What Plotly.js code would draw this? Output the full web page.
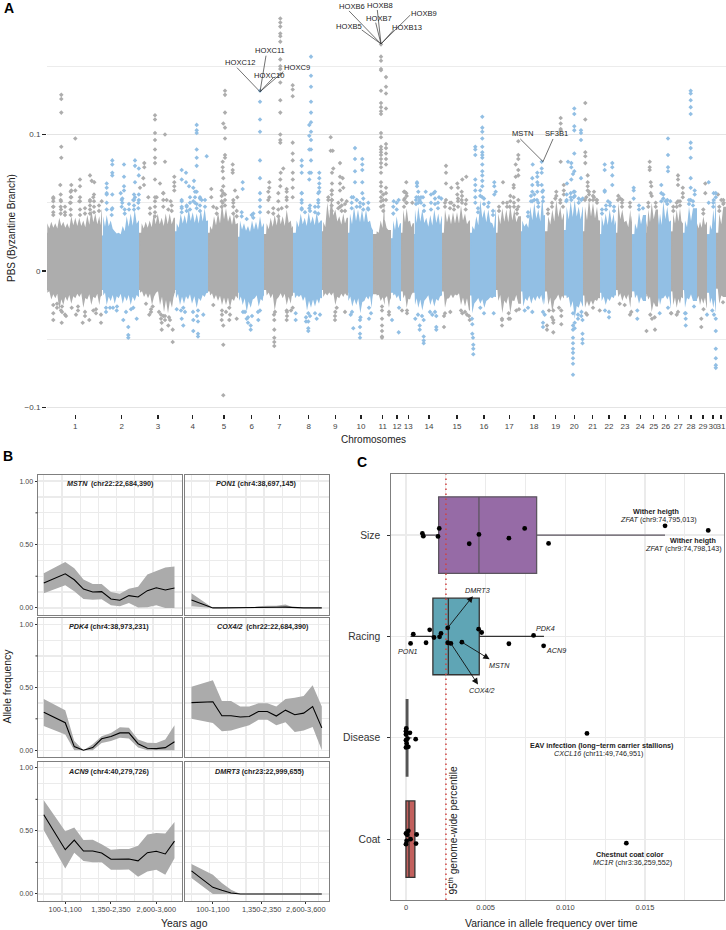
<!DOCTYPE html>
<html><head><meta charset="utf-8">
<script src="https://cdn.plot.ly/plotly-3.0.1.min.js"></script>
<style>html,body{margin:0;padding:0;background:#fff}</style></head>
<body><div id="chart" style="width:726px;height:930px"></div>
<script>
// ---------- Panel A data ----------
const chromosomes=['1','2','3','4','5','6','7','8','9','10','11','12','13','14','15','16','17','18','19','20','21','22','23','24','25','26','27','28','29','30','31'];
const chromBounds=[47,102,139,175,208,238,264,293,322,348,373,391,401,414,442,470,496,521,545,564,583,600,616,632,646,658,671,683,697,707,716,726];
const chromTicks=[75.3,121.7,158,192.7,224,251.7,279.3,308.7,335.3,361,382.7,397,408.3,429,457,484,509.3,534,555.7,574.3,592.7,609,625,640.3,653.7,665.7,678.3,691,703,713,721];
const coreTop=[.028,.026,.028,.029,.028,.025,.027,.028,.029,.028,.027,.024,.028,.027,.028,.028,.028,.029,.029,.030,.029,.027,.028,.027,.028,.027,.029,.028,.028,.027,.028];
const coreLow=[-.014,-.014,-.014,-.014,-.015,-.016,-.014,-.016,-.014,-.016,-.017,-.016,-.015,-.016,-.015,-.018,-.014,-.015,-.015,-.018,-.018,-.016,-.014,-.015,-.017,-.016,-.015,-.014,-.016,-.016,-.013];
const envTop=[[47.3,.035],[51.3,.036],[55.3,.035],[59.3,.039],[63.3,.036],[67.3,.035],[71.3,.040],[75.3,.039],[79.3,.039],[83.3,.037],[87.3,.041],[91.3,.045],[95.3,.042],[99.3,.040],[101.7,.045],
[103.3,.040],[106.7,.041],[110.7,.037],[114.7,.029],[118.7,.028],[122.7,.033],[126.7,.040],[130.7,.042],[134.7,.045],[138.7,.037],
[141.7,.035],[145.7,.036],[149.7,.037],[153.7,.042],[157.7,.042],[161.7,.039],[165.7,.042],[169.7,.042],[173.7,.039],
[176.7,.035],[180.7,.042],[184.7,.041],[188.7,.046],[192.7,.043],[196.7,.042],[200.7,.045],[204.7,.046],[207.7,.037],
[210,.033],[214,.040],[218,.043],[222,.050],[226,.046],[230,.041],[234,.042],[237.3,.035],
[240,.037],[244,.035],[248,.033],[252,.037],[256,.036],[260,.040],[263.8,.035],
[266.7,.035],[270.7,.039],[274.7,.041],[278.7,.043],[282.7,.040],[286.7,.045],[290.7,.037],[292.8,.033],
[296.7,.037],[300.7,.042],[304.7,.039],[308.7,.043],[312.7,.040],[316.7,.043],[320.7,.037],
[323.3,.036],[327.3,.050],[331.3,.055],[335.3,.045],[339.3,.040],[343.3,.042],[346.7,.039],
[350,.042],[354,.047],[358,.045],[362,.045],[366,.045],[370,.037],[372.8,.030],
[376.7,.029],[380.7,.037],[384.3,.050],[385,.037],[388.3,.030],
[393.3,.037],[396.7,.040],[400,.035],
[403.3,.045],[406.7,.046],[410,.037],[412.7,.035],
[415,.045],[418.3,.047],[422.3,.045],[426.3,.039],[430.3,.041],[434.3,.045],[438.3,.042],[441.7,.040],
[445,.045],[449,.042],[453,.043],[457,.043],[461,.048],[465,.042],[469,.037],
[472.3,.033],[476.3,.040],[480.3,.052],[484.3,.045],[488.3,.045],[492.3,.035],[495.7,.045],
[498.3,.042],[502.3,.046],[506.3,.045],[510.3,.048],[514.3,.045],[518.3,.040],
[522.3,.037],[526.3,.035],[530.3,.047],[534.3,.050],[538.3,.045],[542.3,.055],[544.8,.041],
[548.3,.040],[552.3,.045],[556.3,.052],[560.3,.047],[563.7,.042],
[566.7,.047],[570.7,.051],[574.7,.052],[578.7,.047],[582.7,.047],
[585,.047],[589,.053],[593,.050],[597,.047],[599.8,.037],
[601.7,.040],[605.7,.042],[609.7,.045],[613.7,.042],[615.8,.037],
[618.3,.050],[622.3,.045],[626.3,.037],[630.3,.045],[631.8,.040],
[635,.035],[639,.043],[643,.041],[646.3,.037],
[648.3,.045],[651.7,.050],[655.7,.045],[658,.042],
[660,.042],[663.3,.051],[667.3,.047],[670.8,.037],
[673.3,.042],[676.7,.045],[680,.046],[682.7,.035],
[685,.037],[689,.047],[693,.046],[697,.035],
[700,.036],[703.3,.040],[706.7,.036],
[710,.034],[713.3,.045],[715.8,.052],
[719.3,.042],[723.3,.047]];
const envLow=[[47.3,-.016],[51.3,-.021],[55.3,-.020],[59.3,-.029],[63.3,-.025],[67.3,-.022],[71.3,-.024],[75.3,-.020],[79.3,-.019],[83.3,-.027],[87.3,-.021],[91.3,-.025],[95.3,-.020],[99.3,-.025],[101.8,-.018],
[103.3,-.018],[106.7,-.025],[110.7,-.022],[114.7,-.024],[118.7,-.020],[122.7,-.024],[126.7,-.022],[130.7,-.025],[134.7,-.022],[138.7,-.019],
[140,-.016],[144,-.019],[148,-.020],[152,-.025],[156,-.016],[160,-.025],[164,-.030],[168,-.031],[172,-.027],[174.7,-.016],
[176,-.020],[180,-.025],[184,-.024],[188,-.021],[192,-.024],[196.7,-.027],[200.7,-.022],[204.7,-.019],[207.8,-.016],
[210,-.018],[214,-.021],[218,-.022],[222,-.025],[226,-.025],[230,-.027],[234,-.022],[237.7,-.020],
[239,-.022],[242.7,-.025],[246.7,-.030],[250.7,-.027],[254.7,-.020],[258.7,-.026],[262.7,-.022],[263.8,-.018],
[266.7,-.018],[270.7,-.020],[274.7,-.029],[278.7,-.019],[282.7,-.020],[286.7,-.025],[290.7,-.024],[292.8,-.018],
[295,-.020],[299,-.019],[303,-.022],[307,-.029],[311,-.027],[315,-.026],[319,-.024],[321.7,-.020],
[323.3,-.019],[327.3,-.018],[331.3,-.018],[335.3,-.025],[339.3,-.020],[343.3,-.019],[346.7,-.018],
[348.3,-.022],[352.3,-.026],[356.3,-.025],[360.3,-.031],[364.3,-.022],[368.3,-.021],[371.7,-.027],[372.8,-.018],
[376.7,-.018],[380.7,-.022],[384.7,-.025],[385,-.020],[389,-.027],[390.8,-.020],
[393.3,-.018],[396.7,-.020],[400,-.022],
[403.3,-.020],[406.7,-.027],[410,-.021],[412.7,-.016],
[415,-.025],[418.3,-.027],[422.3,-.029],[426.3,-.020],[430.3,-.025],[434.3,-.026],[438.3,-.022],[441.7,-.018],
[445,-.027],[449,-.020],[453,-.020],[457,-.018],[461,-.025],[465,-.026],[469,-.029],
[472.3,-.031],[476.3,-.022],[480.3,-.024],[484.3,-.027],[488.3,-.021],[492.3,-.020],[495.7,-.019],
[498.3,-.022],[502.3,-.031],[506.3,-.024],[510.3,-.031],[514.3,-.022],[518.3,-.024],
[523.3,-.026],[527.3,-.022],[531.3,-.024],[535.3,-.022],[539.3,-.021],[543.3,-.025],[544.8,-.024],
[548.3,-.025],[552.3,-.030],[556.3,-.020],[560.3,-.022],[563.7,-.020],
[566.7,-.020],[570.7,-.027],[574.7,-.035],[578.7,-.027],[582.7,-.026],
[585,-.027],[589,-.026],[593,-.025],[597,-.022],[599.8,-.020],
[601.7,-.022],[605.7,-.025],[609.7,-.022],[613.7,-.020],[615.8,-.018],
[618.3,-.019],[622.3,-.022],[626.3,-.021],[630.3,-.027],[631.8,-.019],
[635,-.020],[639,-.024],[643,-.022],[646.3,-.019],
[648.3,-.021],[651.7,-.030],[655.7,-.026],[658,-.024],
[660,-.025],[663.3,-.020],[667.3,-.021],[670.8,-.027],
[673.3,-.025],[676.7,-.027],[680,-.024],[682.7,-.020],
[685,-.027],[689,-.021],[693,-.022],[697,-.021],
[700,-.025],[703.3,-.024],[706.7,-.027],
[710,-.024],[713.3,-.027],[715.8,-.030],
[719.3,-.024],[723.3,-.019]];
// Individually visible SNPs above the dense band: [genome position, [PBS values]]
const upperPeaks=[[61.3,[.129,.126,.116,.091,.083]],[75.3,[.097,.059]],[60.3,[.063]],[61,[.051,.045]],[71.3,[.063,.059,.054]],[80,[.067,.062]],[90,[.070,.051]],[91.7,[.066]],[94.3,[.065]],[93.3,[.054]],[53.3,[.053,.047]],[70,[.050]],[79.3,[.051]],[101.7,[.051]],
[112.3,[.081,.078,.072,.070,.056,.046]],[124,[.078,.069,.062,.059]],[135,[.081,.077,.065,.054]],[138.8,[.075,.070,.056,.052]],[106.7,[.064,.061,.057]],[120.7,[.057]],[122.3,[.053,.050]],[133.3,[.052]],[121.7,[.047]],
[155,[.114,.111,.101,.096,.089,.083,.079,.067]],[165,[.100,.080]],[144.3,[.079,.076]],[143.3,[.068]],[174.3,[.069,.065,.062,.059]],[160,[.064]],[163.3,[.057]],[166.7,[.052]],[156.7,[.054]],[140,[.061]],[144,[.063]],[148.3,[.054]],[170.7,[.051]],
[196.7,[.107,.103,.101,.089,.083,.077,.058]],[206.7,[.084]],[181.7,[.074,.067,.052,.046]],[186,[.072,.065]],[189,[.062]],[194,[.066]],[193.3,[.061,.051]],[200,[.054]],[201.7,[.052]],[186.7,[.047]],[205,[.052]],
[225,[.132,.129,.116,.105,.097,.085,.083]],[223.3,[.108,.068,.062,.057]],[222.7,[.080,.076,.073,.050]],[232.7,[.078,.074,.072]],[211.3,[.060,.054]],[235,[.059]],[237.3,[.054]],[233.3,[.050]],[213.3,[.047]],
[260,[.132,.124,.111,.102,.081,.068,.052,.047]],[242.7,[.065,.060]],[251.7,[.041]],[241.7,[.040]],
[280.3,[.185,.182,.179,.174,.172,.168,.155,.150,.148,.144,.138,.125,.116,.100,.096,.094,.067,.062]],[292.7,[.136,.133,.128,.094,.086,.081,.061,.054]],[283.3,[.075]],[280.7,[.072]],[292.8,[.072,.067]],[269.3,[.065,.061,.054]],[286.7,[.060,.054,.047]],
[311,[.157,.143,.135,.124,.116,.109,.102,.096,.089,.081,.072]],[309.3,[.107,.099,.089,.072,.067,.046]],[301.7,[.081,.077,.072,.057,.052,.046]],[319.3,[.072,.068,.064,.061,.058]],[318.3,[.050]],
[330.7,[.098,.088]],[332.7,[.088]],[340,[.079,.069,.064,.059,.047]],[333.3,[.075]],[332,[.072,.064,.059,.052]],[342.7,[.068]],[343.3,[.061]],[346.7,[.051]],
[355,[.090,.082,.073,.065]],[362.3,[.082,.078,.074,.065,.057]],[353.3,[.054]],[356.7,[.052]],[368,[.046]],
[381,[.166,.157,.154,.148,.147,.132,.123,.120,.117,.115,.101,.098,.091,.089,.087,.085,.082,.079,.076,.072,.065,.062,.058,.054,.051,.047]],[386,[.142,.135,.130,.119,.093,.090,.086,.082,.078,.061,.057,.052]],
[393.7,[.051]],[398.7,[.052]],[406.3,[.065,.057,.050]],[404.7,[.058,.053]],[412.3,[.050]],
[417,[.065,.064,.062]],[416.3,[.054]],[425.7,[.058]],[423,[.054]],[419.7,[.052]],[433.7,[.057]],[439,[.054]],[441.3,[.053]],
[446,[.077,.072,.064,.052]],[451.3,[.061,.050]],[457.3,[.064,.056]],[462.3,[.067]],[458,[.061,.051]],[461.7,[.058,.052]],[466.3,[.069,.052]],
[482.3,[.113,.105,.102,.097,.091,.087,.085,.083,.078,.073,.070,.066,.062,.054]],[475.3,[.091,.089,.085,.067,.063,.059,.054,.050]],[494.3,[.065,.062,.056]],[495.7,[.058]],[488.7,[.050]],
[503,[.065,.050]],[518.3,[.095,.085,.082,.074,.070,.052,.047]],[515.7,[.078,.069]],[513.7,[.063,.061,.054]],[509.7,[.047]],
[532.7,[.078]],[541.7,[.080,.075,.072,.063]],[537.3,[.072,.069,.065,.058]],[532.3,[.068,.063,.058,.051]],[538,[.063]],[543,[.059,.054,.051]],[537,[.052]],
[560.7,[.112,.108,.104,.103,.080]],[555.3,[.053]],[563.8,[.063,.059,.056]],
[574.3,[.119,.115,.106,.103,.086,.073]],[581,[.103,.101,.096,.068]],[568,[.080]],[571.3,[.079,.076,.067,.052]],[573,[.071]],[573.7,[.058,.054]],[567,[.064]],[582.7,[.053]],[581.3,[.052]],[566.3,[.051]],
[585.3,[.123,.111,.087,.084,.079]],[587.7,[.070,.065,.062,.059]],[594,[.058,.054]],[596.3,[.052]],[586.3,[.054]],[589.7,[.052]],
[604.7,[.078,.074,.059,.058]],[612.3,[.079,.076,.070,.063]],[608,[.051]],[618,[.052]],[620.3,[.053]],[622.3,[.052]],
[633.7,[.061,.059,.053]],[649.7,[.080,.076,.074]],[650.7,[.065,.057]],[651.3,[.062]],
[668,[.097,.085,.076,.073]],[661.3,[.063,.057,.051]],[665.7,[.051]],[670.3,[.051]],
[678,[.070,.067,.063,.051]],[682.8,[.061,.057,.054]],
[690.7,[.132,.130,.125,.120,.115,.094,.090,.083,.068,.061,.052]],[694.7,[.059,.056]],
[705.3,[.064,.057]],[708.7,[.065,.050]],[713.7,[.057,.052]],[718,[.056]],[721.3,[.052]],[723.7,[.050]]];
// Crowded SNPs just above the dense band
const midPeaks=[[53.3,[.054,.051,.047,.043,.041]],[60.7,[.056,.052,.047,.042]],[70.7,[.058,.054,.050,.045,.041]],[80,[.054,.051,.045,.041]],[90,[.052,.048,.045,.042]],[94,[.056,.051,.047,.043]],[65,[.047,.043,.041]],[85,[.046,.042]],[99,[.048,.044]],
[106.7,[.056,.050,.045]],[111.7,[.045,.041]],[121.7,[.052]],[124.7,[.045,.042]],[134,[.056,.052,.048,.045]],[138.3,[.050,.046]],[129,[.049,.045]],
[155,[.054,.051,.047,.043,.040]],[163.3,[.057,.052,.047]],[168.3,[.045]],[150,[.046,.042]],[171.7,[.048,.044]],
[181.7,[.051,.047,.043]],[190,[.054,.050,.045]],[195,[.058,.054,.050]],[200,[.053,.048,.044]],[205,[.047]],[186.7,[.048,.044]],[196.7,[.049,.046]],
[221.7,[.059,.055,.051,.047]],[225,[.056,.052,.048]],[233.3,[.052,.047,.042]],[216.7,[.046,.042]],[236.7,[.044,.040]],
[241.7,[.043]],[253.3,[.042,.039]],[260,[.057,.043]],[246.7,[.038]],
[268.3,[.058,.052,.043]],[278.3,[.057,.051,.045,.040]],[286.7,[.058,.052]],[273.3,[.046,.042]],[281.7,[.046]],
[301.7,[.057,.050,.045]],[310,[.048,.044]],[318.3,[.057,.052,.047,.042]],[305,[.043]],[315,[.047,.043]],
[331.7,[.059,.056,.052,.048,.044]],[328.3,[.054,.052]],[341.7,[.052,.048,.044]],[338.3,[.050,.046]],[345,[.049,.044]],
[351.7,[.054,.050,.046]],[356.7,[.052,.047]],[363.3,[.053,.049,.045]],[368.3,[.050,.045]],[360,[.050,.047]],
[383.3,[.056,.052,.048,.044]],[393.3,[.047,.042]],[396.7,[.050,.045]],[404,[.058,.052,.047]],[406.7,[.055,.050]],
[416,[.052,.049]],[418.3,[.058,.054,.050]],[421,[.054,.050]],[424,[.048,.044]],[431,[.056,.050,.045]],[435,[.058,.053,.049]],[438,[.050,.046]],
[445,[.050,.047]],[450,[.050,.046]],[454,[.048,.045]],[458,[.053,.047]],[462,[.055,.050]],[465.7,[.049,.045]],
[480.3,[.059,.055]],[484,[.053,.049]],[488,[.047]],[478,[.046,.043]],[493,[.044,.041]],
[499,[.047,.044]],[507,[.050,.047]],[510.3,[.055,.051]],[514,[.050,.047]],[517,[.045,.042]],
[531,[.055,.051]],[534.3,[.056,.052]],[538.3,[.050,.047]],[542.3,[.058]],[528,[.043,.040]],
[548,[.045,.042]],[552,[.050,.047]],[556.3,[.058,.055]],[560.3,[.052,.050]],[563,[.047]],
[566.7,[.056,.052]],[570.7,[.057,.054]],[574.7,[.058,.055]],[578.7,[.053,.050]],
[585,[.052]],[589,[.058,.056]],[593,[.055,.052]],[597,[.052,.050]],
[602,[.045,.042]],[606,[.048,.045]],[610,[.050,.048]],[614,[.047,.044]],
[618.3,[.055]],[622,[.050,.047]],[630,[.050,.047]],[639,[.048,.045]],[643,[.046]],
[648.3,[.050,.047]],[651.7,[.055]],[655.7,[.050,.047]],[663.3,[.056,.053]],[667.3,[.052,.049]],
[673.3,[.047,.044]],[676.7,[.050,.047]],[680,[.051,.048]],[689,[.052,.049]],[693,[.051,.048]],
[703.3,[.045,.042]],[713.3,[.050,.047]],[715.8,[.057,.054]],[719.3,[.047,.044]],[723.3,[.052,.049]]];
// Individually visible SNPs below the dense band
const lowerPeaks=[[53.3,[-.025,-.031,-.036]],[61,[-.029]],[61.7,[-.038]],[66,[-.033]],[71.7,[-.027]],[76,[-.032]],[82.7,[-.038]],[89.3,[-.036]],[93.3,[-.029]],[101,[-.038,-.032]],
[110,[-.027]],[116.7,[-.029]],[123.3,[-.036]],[128.3,[-.041,-.047,-.049]],[136.7,[-.035]],[133.3,[-.027]],
[149.3,[-.032]],[152.7,[-.026]],[161.7,[-.038,-.043]],[168.3,[-.040]],[172.7,[-.043,-.052]],[163.3,[-.033]],[170,[-.036]],
[176.7,[-.028]],[181.7,[-.035]],[183.3,[-.040,-.027]],[193.3,[-.036,-.044]],[198,[-.029,-.037,-.046,-.048]],[203.3,[-.032]],
[221.7,[-.036]],[223.3,[-.040,-.054,-.091]],[229.3,[-.036,-.027]],[236.7,[-.035]],[213.3,[-.025]],
[245,[-.030]],[246.7,[-.035]],[250.7,[-.040,-.043]],[258.3,[-.036]],[260,[-.029]],
[275,[-.030]],[274.3,[-.036,-.043,-.049,-.052,-.055]],[286.7,[-.036,-.029]],[292.7,[-.027]],
[295.7,[-.031,-.036]],[308.3,[-.031,-.037,-.042,-.044]],[316.7,[-.035]],[320,[-.032]],
[335,[-.036,-.033]],[345,[-.030]],[336.7,[-.027]],
[353.3,[-.042]],[360,[-.036,-.041,-.046,-.049]],[350.7,[-.032]],[369,[-.035,-.027]],
[382,[-.029,-.035,-.040,-.044,-.048,-.049]],[389,[-.032]],[392,[-.036]],[398.7,[-.045]],[399,[-.027]],[407,[-.029]],[402,[-.029]],
[415.3,[-.035]],[419.7,[-.040,-.043]],[423.7,[-.048,-.051,-.053,-.036]],[432.3,[-.032]],[436.3,[-.041,-.043,-.033]],
[444,[-.033,-.041]],[450.3,[-.030]],[462.3,[-.031]],[469.7,[-.036]],[467,[-.032]],
[472.3,[-.039,-.046]],[473,[-.049]],[473.3,[-.054,-.057,-.061]],[480.3,[-.027]],[493.7,[-.031]],
[502,[-.036,-.040]],[508.7,[-.031,-.035]],[516.3,[-.029]],
[524.7,[-.029]],[532.3,[-.030]],[543,[-.030,-.038,-.041]],[544.7,[-.032]],[547,[-.040,-.043]],
[549,[-.029]],[553.3,[-.029,-.036,-.038,-.045]],[561.3,[-.029,-.039,-.033]],
[573,[-.031,-.040,-.043,-.049,-.053,-.057,-.060,-.064,-.068,-.076]],[581.3,[-.033]],[582.5,[-.036,-.046,-.050,-.053]],
[587,[-.032]],[593,[-.027]],[599.7,[-.029]],[609,[-.034,-.030]],[619.7,[-.024]],[624.7,[-.025]],[631.3,[-.030]],
[637.3,[-.035,-.029]],[646.5,[-.044]],[650.3,[-.032]],[654.7,[-.034]],[655,[-.043]],[659.7,[-.031]],[668,[-.027]],
[671.3,[-.031]],[678,[-.030]],[685.7,[-.031,-.035,-.040]],[694,[-.026]],[701.3,[-.035,-.041]],[707,[-.032]],
[715.8,[-.035,-.044,-.057,-.064,-.069,-.071]],[712.3,[-.029]],[723,[-.023]],
[57,[-.024,-.027]],[62,[-.026,-.030]],[65,[-.032]],[78,[-.026,-.029]],[85,[-.030,-.033]],[96,[-.028,-.031]],
[106,[-.027,-.030]],[113,[-.027]],[117,[-.026]],[126,[-.030]],[131,[-.028]],
[146,[-.024]],[151,[-.028,-.030]],[159,[-.030]],[161,[-.032,-.035]],[165,[-.033,-.036]],[169,[-.034]],
[181,[-.029]],[185,[-.030]],[193,[-.030]],[197,[-.033]],[222,[-.029,-.032]],[226,[-.030]],[230,[-.032]],
[243,[-.030]],[248,[-.034,-.038]],[252,[-.033]],[258,[-.030]],[274,[-.032]],[287,[-.030,-.033]],[291,[-.029]],
[306,[-.034,-.037]],[310,[-.033]],[315,[-.031]],[335.3,[-.030]],[352,[-.030]],[360.5,[-.034]],[371,[-.031]],[382,[-.026]],
[389,[-.030]],[407,[-.031]],[418,[-.032]],[422,[-.033]],[430,[-.030]],[435,[-.030]],
[445,[-.031]],[461,[-.029]],[465,[-.030]],[469,[-.033]],[472,[-.035]],[484,[-.031]],
[502,[-.035]],[510,[-.035]],[519,[-.028]],[528,[-.027]],[552,[-.034]],[559,[-.027]],
[574.7,[-.038,-.042]],[578,[-.032,-.035]],[581.5,[-.030]],[586,[-.031]],[605,[-.029]],[630,[-.032]],
[652,[-.035]],[671,[-.031]],[676.7,[-.032]],[685,[-.031]],[703.5,[-.028]],[714,[-.032]]];
// Gene labels of panel A: [label, position, PBS, leader start position, leader start PBS, leader end position, leader end PBS]
const geneLabels=[['HOXC12',239.7,.1526,237,.1489,260,.1313],['HOXC11',270,.1617,266,.1577,260,.1313],['HOXC10',268.7,.1429,273,.1414,260,.1313],['HOXC9',297,.1489,283.3,.146,260,.1313],
['HOXB6',351.7,.1936,349,.1905,381,.1663],['HOXB5',349.3,.1793,361.7,.1766,381,.1663],['HOXB8',380.3,.1947,377.3,.1912,381,.1663],['HOXB7',378.7,.1851,375.7,.1819,381,.1663],['HOXB9',424.3,.1885,410.3,.1875,381,.1663],['HOXB13',407.3,.1782,393.7,.1766,381,.1663],
['MSTN',522.7,.1004,520.3,.0967,543,.0801],['SF3B1',556,.1004,553,.0967,543,.0801]];

// ---------- Panel B data ----------
const timeBin=[0,2.36,3.35,4.36,5.38,6.36,7.38,8.36,9.35,10.36,11.38,12.36,13.35,14.36];
const timeTicks=[2.36,7.38,12.36];
const timeTicksRight=[2.36,7.73,12.6];
const timeTickLabels=['100-1,100','1,350-2,350','2,600-3,600'];
const mstnMean=[.196,.269,.222,.149,.125,.128,.07,.06,.097,.086,.136,.159,.141,.157];
const mstnHigh=[.274,.363,.313,.225,.188,.188,.125,.112,.151,.167,.264,.292,.319,.326];
const mstnLow=[.115,.178,.131,.07,.065,.068,.021,.013,.039,.003,.005,.021,0,0];
const pon1Mean=[.063,0,0,0,0,0,.003,.005,.005,.006,0,0,0,0];
const pon1High=[.115,0,0,0,0,0,.013,.018,.018,.026,0,0,0,0];
const pon1Low=[.013,0,0,0,0,0,0,0,0,0,0,0,0,0];
const pdk4Mean=[.303,.219,.029,0,.021,.091,.11,.138,.138,.052,.016,.013,.021,.068];
const pdk4High=[.407,.319,.073,0,.047,.112,.138,.183,.178,.086,.06,.057,.086,.198];
const pdk4Low=[.193,.125,0,0,0,.057,.073,.099,.094,.021,0,0,0,0];
const coxMean=[.379,.386,.274,.274,.264,.269,.308,.308,.272,.319,.282,.295,.347,.178];
const coxHigh=[.504,.556,.392,.392,.347,.347,.373,.373,.347,.407,.418,.431,.517,.347];
const coxLow=[.251,.217,.151,.157,.178,.198,.243,.243,.198,.222,.146,.157,.185,0];
const acn9Mean=[.628,.351,.427,.34,.34,.325,.275,.275,.277,.262,.327,.338,.317,.419];
const acn9High=[.743,.497,.526,.427,.429,.393,.351,.356,.356,.382,.471,.484,.479,.571];
const acn9Low=[.505,.202,.327,.262,.251,.251,.191,.191,.194,.136,.178,.191,.152,.283];
const dmrtMean=[.183,.052,.029,.008,0,0,0,0,0,0,0,0,0,0];
const dmrtHigh=[.238,.152,.086,.034,0,0,0,0,0,0,0,0,0,0];
const dmrtLow=[.126,0,0,0,0,0,0,0,0,0,0,0,0,0];

// ---------- Panel C data ----------
const traitNames=['Coat','Disease','Racing','Size'];
const traitRow=[1,2,3,4];
const boxQ1=[0,.00002,.00169,.00205];
const boxMedian=[.00019,.00005,.00266,.00458];
const boxQ3=[.00056,.00012,.0046,.0082];
const boxLowFence=[0,0,.00029,.00105];
const boxHighFence=[.00056,.00035,.00866,.01626];
const sizeVar=[.00103,.00109,.00201,.00209,.00397,.00458,.00646,.00745,.00895,.01626,.01897];
const sizeJit=[4.016,3.99,3.987,4.066,3.915,4.007,3.97,4.066,3.918,4.092,4.046];
const racingVar=[.00046,.00029,.00126,.00149,.00176,.00211,.0022,.00262,.00262,.00282,.00351,.00456,.00475,.00646,.00801,.00864];
const racingJit=[3.023,2.931,2.938,3.066,2.99,2.997,3.03,3.085,2.938,2.931,2.944,3.072,3.039,2.928,3.01,2.908];
const diseaseVar=[.00002,0,.00025,0,.0001,.00061,0,.00004,.00015,0,.01136];
const diseaseJit=[2.092,2.066,2.049,2.033,1.993,1.987,1.977,1.944,1.911,1.905,2.043];
const coatVar=[0,.00015,.00008,.00067,.00029,.00004,0,.00063,.01383];
const coatJit=[1.056,1.082,1.043,1.046,1,.984,.951,.957,.961];
const genomeWide95=.00251;
// Gene arrows of panel C: [label, variance, row, label variance, label row]
const geneArrows=[['DMRT3',.00262,3.085,.0045,3.457],['MSTN',.00351,2.944,.00586,2.717],['COX4/2',.00282,2.931,.00477,2.467]];

// ---------- Styling ----------
const W=726,H=930,FONT='"Liberation Sans",Arial,sans-serif';
const GREY='#ADADAD',BLUE='#92BFE4',RIBBON='#ABABAB',BORDER='#7f7f7f',GRID='#ebebeb';
const hd=(a,b)=>[a/W,b/W], vd=(t,b)=>[1-b/H,1-t/H];
const traces=[];
const chromColor=i=>i%2?BLUE:GREY;
const chromOf=x=>{for(let i=0;i<31;i++){if(x<chromBounds[i+1])return i;}return 30;};

// toothed envelope of the dense SNP cloud, one polygon per chromosome
[[envTop,coreTop],[envLow,coreLow]].forEach(([env,core])=>{
  chromosomes.forEach((c,i)=>{
    const pts=env.filter(p=>chromOf(p[0])===i);
    const a=chromBounds[i],b=chromBounds[i+1],xs=[a],ys=[0];
    pts.forEach((p,k)=>{
      xs.push(p[0]);ys.push(p[1]);
      if(k<pts.length-1){xs.push((p[0]+pts[k+1][0])/2);ys.push(core[i]+.45*(p[1]-core[i]));}
    });
    xs.push(b,b);ys.push(pts[pts.length-1][1],0);
    traces.push({type:'scatter',mode:'none',fill:'toself',xaxis:'x',yaxis:'y',hoverinfo:'skip',showlegend:false,x:xs,y:ys,fillcolor:chromColor(i)});
  });
});
// solid core of the cloud
traces.push({type:'bar',xaxis:'x',yaxis:'y',hoverinfo:'skip',showlegend:false,
  x:chromosomes.map((c,i)=>(chromBounds[i]+chromBounds[i+1])/2),
  width:chromosomes.map((c,i)=>chromBounds[i+1]-chromBounds[i]),
  base:coreLow,y:coreTop.map((v,i)=>v-coreLow[i]),
  marker:{color:chromosomes.map((c,i)=>chromColor(i)),line:{width:0}}});
// individual points
const ptsX=[],ptsY=[],ptsC=[];
upperPeaks.concat(midPeaks,lowerPeaks).forEach(([x,vals])=>vals.forEach(v=>{ptsX.push(x);ptsY.push(v);ptsC.push(chromColor(chromOf(x)));}));
traces.push({type:'scatter',mode:'markers',xaxis:'x',yaxis:'y',x:ptsX,y:ptsY,hoverinfo:'skip',showlegend:false,
  marker:{symbol:'diamond',size:3.5,color:ptsC,line:{width:0}}});
// leader lines
geneLabels.forEach(g=>traces.push({type:'scatter',mode:'lines',xaxis:'x',yaxis:'y',x:[g[3],g[5]],y:[g[4],g[6]],hoverinfo:'skip',showlegend:false,line:{color:'#333',width:.7}}));

// facets
const facets=[
 {mean:mstnMean,hi:mstnHigh,lo:mstnLow,gene:'MSTN',loc:'\u2002(chr22:22,684,390)',top:474.3,bot:615,col:0,tx:110,ty:484},
 {mean:pon1Mean,hi:pon1High,lo:pon1Low,gene:'PON1',loc:' (chr4:38,697,145)',top:474.3,bot:615,col:1,tx:256.7,ty:484},
 {mean:pdk4Mean,hi:pdk4High,lo:pdk4Low,gene:'PDK4',loc:' (chr4:38,973,231)',top:617.7,bot:757.3,col:0,tx:109,ty:626.7},
 {mean:coxMean,hi:coxHigh,lo:coxLow,gene:'COX4/2',loc:'\u2002(chr22:22,684,390)',top:617.7,bot:757.3,col:1,tx:263,ty:626.7},
 {mean:acn9Mean,hi:acn9High,lo:acn9Low,gene:'ACN9',loc:' (chr4:40,279,726)',top:761,bot:901,col:0,tx:109,ty:771},
 {mean:dmrtMean,hi:dmrtHigh,lo:dmrtLow,gene:'DMRT3',loc:' (chr23:22,999,655)',top:761,bot:901,col:1,tx:260,ty:771}];
const layout={width:W,height:H,margin:{l:0,r:0,t:0,b:0},paper_bgcolor:'#fff',plot_bgcolor:'#fff',showlegend:false,
  barmode:'overlay',boxmode:'overlay',font:{family:FONT,color:'#333'},hovermode:false,annotations:[],shapes:[],
  xaxis:{domain:hd(47,726),range:[47,726],tickmode:'array',tickvals:chromTicks,ticktext:chromosomes,ticks:'outside',ticklen:4,tickwidth:1.4,tickcolor:'#222',
    tickfont:{size:8,color:'#444',family:FONT},showgrid:false,zeroline:false,showline:false,tickangle:0},
  yaxis:{domain:vd(0,414),range:[-.1048,.1985],tickmode:'array',tickvals:[-.1,0,.1],ticktext:['\u22120.1','0','0.1'],ticks:'outside',ticklen:4,tickwidth:1.4,tickcolor:'#222',
    tickfont:{size:8,color:'#444',family:FONT},showgrid:true,gridcolor:'#e4e4e4',gridwidth:1.5,zeroline:false,showline:false,
    minor:{tickmode:'array',tickvals:[-.05,.05,.15],showgrid:true,gridcolor:'#ececec',gridwidth:1.2,ticks:''}}
};
const note=(px,py,text,size,extra)=>Object.assign({xref:'paper',yref:'paper',x:px/W,y:1-py/H,text,showarrow:false,xanchor:'center',yanchor:'middle',font:{family:FONT,size,color:'#222'}},extra||{});

facets.forEach((f,i)=>{
  const n=i+2,xn='x'+n,yn='y'+n,left=f.col?185.2:37.5,right=f.col?328.8:181.5;
  traces.push({type:'scatter',mode:'none',fill:'toself',fillcolor:RIBBON,xaxis:xn,yaxis:yn,hoverinfo:'skip',showlegend:false,
    x:timeBin.concat(timeBin.slice().reverse()),y:f.hi.concat(f.lo.slice().reverse())});
  traces.push({type:'scatter',mode:'lines',xaxis:xn,yaxis:yn,x:timeBin,y:f.mean,hoverinfo:'skip',showlegend:false,line:{color:'#000',width:1.1}});
  layout['xaxis'+n]={domain:hd(left,right),range:[-.69,15.13],anchor:yn,tickmode:'array',tickvals:f.col?timeTicksRight:timeTicks,ticktext:timeTickLabels,
    showticklabels:i>=4,ticks:i>=4?'outside':'',ticklen:2,tickcolor:'#333',tickfont:{size:7.4,color:'#444',family:FONT},tickangle:0,
    showgrid:false,zeroline:false,showline:true,mirror:true,linecolor:BORDER,linewidth:1,
    minor:{tickmode:'array',tickvals:[0,2,4,6,8,10,12,14],showgrid:true,gridcolor:GRID,gridwidth:1.3,ticks:''}};
  layout['yaxis'+n]={domain:vd(f.top+.5,f.bot-.5),range:[-.052,1.05],anchor:xn,tickmode:'array',tickvals:[0,.5,1],ticktext:['0.00','0.50','1.00'],
    showticklabels:f.col===0,ticks:f.col===0?'outside':'',ticklen:2,tickcolor:'#333',tickfont:{size:7,color:'#444',family:FONT},
    showgrid:true,gridcolor:GRID,gridwidth:1.3,zeroline:false,showline:true,mirror:true,linecolor:BORDER,linewidth:1,
    minor:{tickmode:'array',tickvals:[.125,.25,.375,.625,.75,.875],showgrid:true,gridcolor:GRID,gridwidth:1.2,ticks:''}};
  if(f.col===0)[.25,.75].forEach(v=>layout.shapes.push({type:'line',xref:xn+' domain',yref:yn,x0:-.014,x1:0,y0:v,y1:v,line:{color:'#333',width:1}}));
  layout.annotations.push(note(f.tx,f.ty,'<b><i>'+f.gene+'</i>'+f.loc+'</b>',7.2));
});

// Panel C
const boxFill=['#C2605D','#6f6f6f','#5FA5B5','#966BA6'];
const boxLine=['#333','#555','#333','#5c5560'];
traitNames.forEach((t,i)=>traces.push({type:'box',orientation:'h',xaxis:'x8',yaxis:'y8',y:[traitRow[i]],q1:[boxQ1[i]],median:[boxMedian[i]],q3:[boxQ3[i]],
  lowerfence:[boxLowFence[i]],upperfence:[boxHighFence[i]],width:.755,boxpoints:false,whiskerwidth:0,fillcolor:boxFill[i],
  line:{color:boxLine[i],width:1.3},hoverinfo:'skip',showlegend:false,name:t}));
traces.push({type:'scatter',mode:'lines',xaxis:'x8',yaxis:'y8',x:[genomeWide95,genomeWide95],y:[.4,4.6],hoverinfo:'skip',showlegend:false,line:{color:'#D0433F',width:1.5,dash:'1.5px 3.5px'}});
traces.push({type:'scatter',mode:'markers',xaxis:'x8',yaxis:'y8',x:coatVar.concat(diseaseVar,racingVar,sizeVar),y:coatJit.concat(diseaseJit,racingJit,sizeJit),
  hoverinfo:'skip',showlegend:false,marker:{color:'#000',size:4.8,line:{width:0}}});
layout.xaxis8={domain:hd(391.3,724),range:[-.00092,.01996],anchor:'y8',tickmode:'array',tickvals:[0,.005,.01,.015],ticktext:['0','0.005','0.010','0.015'],ticks:'',
  tickfont:{size:7.5,color:'#444',family:FONT},tickangle:0,showgrid:true,gridcolor:GRID,gridwidth:1.3,zeroline:false,showline:true,mirror:true,linecolor:BORDER,linewidth:1,
  minor:{tickmode:'array',tickvals:[.0025,.0075,.0125,.0175],showgrid:true,gridcolor:GRID,gridwidth:1.1,ticks:''}};
layout.yaxis8={domain:vd(474.3,900),range:[.4,4.6],anchor:'x8',tickmode:'array',tickvals:traitRow,ticktext:traitNames,ticks:'outside',ticklen:3,tickwidth:1,tickcolor:'#333',ticklabelstandoff:5,
  tickfont:{size:10.3,color:'#333',family:FONT},showgrid:true,gridcolor:GRID,gridwidth:1.3,zeroline:false,showline:true,mirror:true,linecolor:BORDER,linewidth:1};

// Text
geneLabels.forEach(g=>layout.annotations.push({xref:'x',yref:'y',x:g[1],y:g[2],text:g[0],showarrow:false,xanchor:'center',yanchor:'middle',font:{family:FONT,size:7.6,color:'#222'}}));
[['A',9,8],['B',8,456],['C',362,462]].forEach(l=>layout.annotations.push(note(l[1],l[2],'<b>'+l[0]+'</b>',14,{font:{family:FONT,size:14,color:'#000'}})));
layout.annotations.push(note(12,228,'PBS (Byzantine Branch)',10,{textangle:-90}));
layout.annotations.push(note(373,439,'Chromosomes',10));
layout.annotations.push(note(6.5,686,'Allele frequency',10.4,{textangle:-90}));
layout.annotations.push(note(184,923,'Years ago',10.4));
layout.annotations.push(note(551.7,923,'Variance in allele frequency over time',10.4));
layout.annotations.push(note(452.5,830,'95<sup>th</sup> genome-wide percentile',10.2,{textangle:-90}));
[[655.7,511.7,'<b>Wither heigth</b>'],[658.7,519.3,'<i>ZFAT</i> (chr9:74,795,013)'],[692.7,540.3,'<b>Wither heigth</b>'],[683.3,548,'<i>ZFAT</i> (chr9:74,798,143)'],
 [601.7,745.7,'<b>EAV infection (long\u2212term carrier stallions)</b>'],[598.7,753.3,'<i>CXCL16</i> (chr11:49,746,951)'],
 [630,854.7,'<b>Chestnut coat color</b>'],[632,862.3,'<i>MC1R</i> (chr3:36,259,552)'],
 [407.7,651.3,'<i>PON1</i>'],[545,628.3,'<i>PDK4</i>'],[555.7,650.3,'<i>ACN9</i>']
].forEach(a=>layout.annotations.push(note(a[0],a[1],a[2],7.2)));
geneArrows.forEach(a=>layout.annotations.push({xref:'x8',yref:'y8',axref:'x8',ayref:'y8',x:a[1],y:a[2],ax:a[3],ay:a[4],text:'<i>'+a[0]+'</i>',showarrow:true,arrowside:'start',startarrowhead:2,startarrowsize:1.4,arrowwidth:.9,arrowcolor:'#111',font:{family:FONT,size:7.2,color:'#222'}}));

Plotly.newPlot('chart',traces,layout,{displayModeBar:false,staticPlot:true});
</script></body></html>
